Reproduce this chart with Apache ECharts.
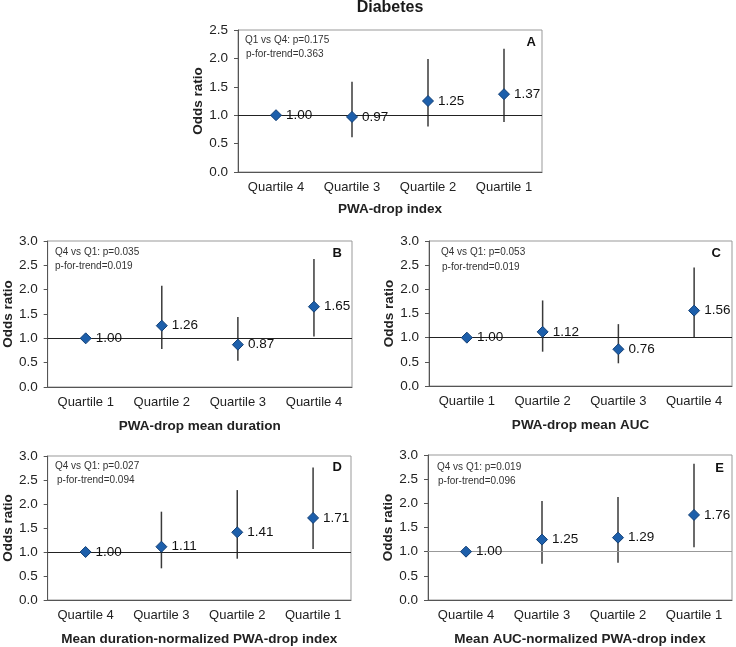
<!DOCTYPE html>
<html><head><meta charset="utf-8">
<script src="https://cdn.jsdelivr.net/npm/echarts@6/dist/echarts.min.js"></script>
<style>html,body{margin:0;padding:0;background:#fff}#c{width:736px;height:647px}</style>
</head><body><div id="c"></div>
<script>
// ---- data ----
const catsDesc = ['Quartile 4','Quartile 3','Quartile 2','Quartile 1'];
const catsAsc = ['Quartile 1','Quartile 2','Quartile 3','Quartile 4'];

const orA = [1.00, 0.97, 1.25, 1.37];
const lowA = [null, 0.61, 0.80, 0.88];
const highA = [null, 1.59, 1.99, 2.17];

const orB = [1.00, 1.26, 0.87, 1.65];
const lowB = [null, 0.78, 0.54, 1.04];
const highB = [null, 2.08, 1.44, 2.63];

const orC = [1.00, 1.12, 0.76, 1.56];
const lowC = [null, 0.71, 0.47, 1.00];
const highC = [null, 1.77, 1.28, 2.45];

const orD = [1.00, 1.11, 1.41, 1.71];
const lowD = [null, 0.66, 0.86, 1.06];
const highD = [null, 1.84, 2.29, 2.76];

const orE = [1.00, 1.25, 1.29, 1.76];
const lowE = [null, 0.75, 0.77, 1.09];
const highE = [null, 2.05, 2.13, 2.82];

const xNames = ['PWA-drop index','PWA-drop mean duration','PWA-drop mean AUC','Mean duration-normalized PWA-drop index','Mean AUC-normalized PWA-drop index'];
const yMaxes = [2.5, 3.0, 3.0, 3.0, 3.0];
const letters = ['A','B','C','D','E'];
const pLines = ['Q1 vs Q4: p=0.175','Q4 vs Q1: p=0.035','Q4 vs Q1: p=0.053','Q4 vs Q1: p=0.027','Q4 vs Q1: p=0.019'];
const trendLines = ['p-for-trend=0.363','p-for-trend=0.019','p-for-trend=0.019','p-for-trend=0.094','p-for-trend=0.096'];

// ---- layout ----
const FONT = '"Liberation Sans", Arial, sans-serif';
const panels = [
  {cats: catsDesc, or: orA, low: lowA, high: highA, box: [238, 30, 304, 142], refColor:'#222'},
  {cats: catsAsc, or: orB, low: lowB, high: highB, box: [42, 241, 310, 146], refColor:'#222'},
  {cats: catsAsc, or: orC, low: lowC, high: highC, box: [429, 241, 303, 145], refColor:'#222'},
  {cats: catsDesc, or: orD, low: lowD, high: highD, box: [47, 456, 304, 144], refColor:'#222'},
  {cats: catsDesc, or: orE, low: lowE, high: highE, box: [428, 455, 304, 145], refColor:'#999'}
];
const annot = [
  {p:[245,41], t:[246,55], l:[536,42]},
  {p:[55,253], t:[55,267], l:[342,253]},
  {p:[441,253], t:[442,268], l:[721,253]},
  {p:[55,467], t:[57,481], l:[342,467]},
  {p:[437,468], t:[438,482], l:[724,468]}
];

const grid = [], xAxis = [], yAxis = [], series = [], graphic = [];
panels.forEach((pn, i) => {
  const [l, t, w, h] = pn.box;
  grid.push({left: l, top: t, width: w, height: h, show: true, borderColor: '#999', borderWidth: 1, backgroundColor: 'transparent'});
  xAxis.push({
    type: 'category', gridIndex: i, data: pn.cats, boundaryGap: true,
    axisLine: {lineStyle: {color: '#555', width: 1}},
    axisTick: {alignWithLabel: true, length: 4, lineStyle: {color: '#555'}},
    axisLabel: {color: '#222', fontSize: 13, fontFamily: FONT, margin: 9},
    name: xNames[i], nameLocation: 'middle', nameGap: i === 0 ? 30 : 32,
    nameTextStyle: {color: '#222', fontSize: 13.5, fontWeight: 'bold', fontFamily: FONT}
  });
  yAxis.push({
    type: 'value', gridIndex: i, min: 0, max: yMaxes[i], interval: 0.5,
    splitLine: {show: false},
    axisLine: {show: true, lineStyle: {color: '#555', width: 1}},
    axisTick: {show: true, length: 4, lineStyle: {color: '#555'}},
    axisLabel: {color: '#222', fontSize: 13.5, fontFamily: FONT, margin: 10, formatter: v => v.toFixed(1)},
    name: 'Odds ratio', nameLocation: 'middle', nameGap: 32,
    nameTextStyle: {color: '#222', fontSize: 13.5, fontWeight: 'bold', fontFamily: FONT}
  });
  const ciData = pn.cats.map((c, k) => [k, pn.low[k], pn.high[k]]).filter(d => d[1] != null);
  series.push({
    type: 'custom', xAxisIndex: i, yAxisIndex: i, z: 2,
    data: ciData,
    renderItem: (params, api) => {
      const a = api.coord([api.value(0), api.value(1)]);
      const b = api.coord([api.value(0), api.value(2)]);
      return {type: 'line', shape: {x1: a[0], y1: a[1], x2: b[0], y2: b[1]}, style: {stroke: '#3a3a3a', lineWidth: 1.5}};
    },
    markLine: {silent: true, symbol: 'none', label: {show: false}, lineStyle: {color: pn.refColor, type: 'solid', width: 1}, data: [{yAxis: 1}]}
  });
  series.push({
    type: 'scatter', xAxisIndex: i, yAxisIndex: i, z: 5,
    symbol: 'diamond', symbolSize: 11,
    itemStyle: {color: '#1d5fab', borderColor: '#123f75', borderWidth: 1, opacity: 1},
    data: pn.or.map((v, k) => [k, v]),
    label: {show: true, position: 'right', distance: 4, formatter: p => p.value[1].toFixed(2), color: '#111', fontSize: 13.5, fontFamily: FONT}
  });
  const an = annot[i];
  graphic.push({type: 'text', left: an.p[0], top: an.p[1] - 6, style: {text: pLines[i], fill: '#333', font: '10px ' + FONT}});
  graphic.push({type: 'text', left: an.t[0], top: an.t[1] - 6, style: {text: trendLines[i], fill: '#333', font: '10px ' + FONT}});
  graphic.push({type: 'text', x: an.l[0], y: an.l[1], style: {text: letters[i], fill: '#111', font: 'bold 13px ' + FONT, textAlign: 'right', textVerticalAlign: 'middle'}});
});
graphic.push({type: 'text', x: 390, y: 8, style: {text: 'Diabetes', fill: '#1a1a1a', font: 'bold 16px ' + FONT, textAlign: 'center', textVerticalAlign: 'middle'}});

const chart = echarts.init(document.getElementById('c'), null, {renderer: 'canvas'});
chart.setOption({
  animation: false,
  grid, xAxis, yAxis, series, graphic
});
</script></body></html>
